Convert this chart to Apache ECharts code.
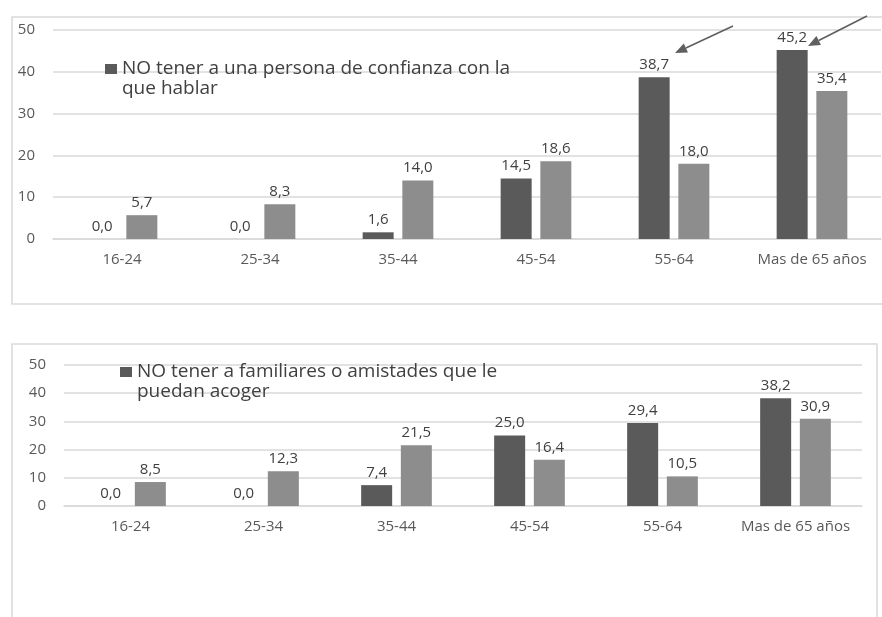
<!DOCTYPE html>
<html>
<head>
<meta charset="utf-8">
<script src="https://cdn.jsdelivr.net/npm/echarts@6/dist/echarts.min.js"></script>
<style>
  html, body { margin: 0; padding: 0; background: #ffffff; }
  #chart { width: 882px; height: 617px; }
</style>
</head>
<body>
<div id="chart"></div>
<script>
// Age groups shared by both panels
const ageGroups = ['16-24', '25-34', '35-44', '45-54', '55-64', 'Mas de 65 años'];

// Upper panel: no trusted person to talk to
const confianzaName = 'NO tener a una persona de confianza con la\nque hablar';
const confianzaValues = [0.0, 0.0, 1.6, 14.5, 38.7, 45.2];
const confianzaRef = [5.7, 8.3, 14.0, 18.6, 18.0, 35.4];

// Lower panel: no relatives or friends who could take them in
const acogidaName = 'NO tener a familiares o amistades que le\npuedan acoger';
const acogidaValues = [0.0, 0.0, 7.4, 25.0, 29.4, 38.2];
const acogidaRef = [8.5, 12.3, 21.5, 16.4, 10.5, 30.9];

// Value axis ticks
const yTicks = [0, 10, 20, 30, 40, 50];

const DARK = '#5a5a5a';
const LIGHT = '#8d8d8d';
const GRID = '#d9d9d9';
const FONT = 'Open Sans';

// Legend marker: a square in the top third of the item box, so it sits
// beside the first line of the two-line legend text.
const LEGEND_ICON = 'path://M0,0H12V10H0Z M0,29.95H0.05V30H0Z';

const fmt = v => v.toFixed(1).replace('.', ',');

function barSeries(name, data, color, axisIndex) {
  return {
    type: 'bar',
    name: name,
    data: data,
    xAxisIndex: axisIndex,
    yAxisIndex: axisIndex,
    barWidth: 31,
    barGap: '28%',
    itemStyle: { color: color },
    label: {
      show: true,
      position: 'top',
      distance: 5,
      color: '#404040',
      fontFamily: FONT,
      fontSize: 15,
      formatter: p => fmt(p.value)
    },
    animation: false
  };
}

function catAxis(gridIndex) {
  return {
    type: 'category',
    gridIndex: gridIndex,
    data: ageGroups,
    axisLine: { show: true, lineStyle: { color: GRID, width: 1.5 } },
    axisTick: { show: false },
    axisLabel: { color: '#595959', fontFamily: FONT, fontSize: 15, margin: 13, interval: 0 }
  };
}

function valAxis(gridIndex) {
  return {
    type: 'value',
    gridIndex: gridIndex,
    min: yTicks[0],
    max: yTicks[yTicks.length - 1],
    interval: yTicks[1] - yTicks[0],
    axisLine: { show: false },
    axisTick: { show: false },
    splitLine: { lineStyle: { color: GRID, width: 1.5 } },
    axisLabel: { color: '#595959', fontFamily: FONT, fontSize: 15, margin: 18 }
  };
}

function legendFor(name, left, top) {
  return {
    data: [name],
    left: left, top: top,
    icon: LEGEND_ICON, itemWidth: 12, itemHeight: 30, itemGap: 5,
    textStyle: { color: '#404040', fontFamily: FONT, fontSize: 19, lineHeight: 20 },
    selectedMode: false
  };
}

// Arrow annotation: a shaft plus a filled triangular head at (x2, y2)
function arrow(x1, y1, x2, y2) {
  const ang = Math.atan2(y2 - y1, x2 - x1);
  const len = 12, half = 5;
  const bx = x2 - len * Math.cos(ang), by = y2 - len * Math.sin(ang);
  const nx = -Math.sin(ang) * half, ny = Math.cos(ang) * half;
  return [
    { type: 'line', z: 50, shape: { x1: x1, y1: y1, x2: bx, y2: by },
      style: { stroke: '#5f5f5f', lineWidth: 1.6 } },
    { type: 'polygon', z: 50,
      shape: { points: [[x2, y2], [bx + nx, by + ny], [bx - nx, by - ny]] },
      style: { fill: '#5f5f5f' } }
  ];
}

const chart = echarts.init(document.getElementById('chart'), null, { renderer: 'canvas' });

chart.setOption({
  backgroundColor: '#ffffff',
  animation: false,
  graphic: [
    { type: 'rect', z: -10, shape: { x: 12, y: 17, width: 900, height: 287 },
      style: { fill: '#ffffff', stroke: GRID, lineWidth: 1.5 } },
    { type: 'rect', z: -10, shape: { x: 12, y: 344, width: 865, height: 300 },
      style: { fill: '#ffffff', stroke: GRID, lineWidth: 1.5 } },
    ...arrow(733, 26, 675, 53),
    ...arrow(867, 16, 808, 46)
  ],
  legend: [
    legendFor(confianzaName, 100, 54),
    legendFor(acogidaName, 115, 357)
  ],
  grid: [
    { left: 53, right: 1, top: 30, height: 209, containLabel: false },
    { left: 64, right: 20, top: 365, height: 141, containLabel: false }
  ],
  xAxis: [catAxis(0), catAxis(1)],
  yAxis: [valAxis(0), valAxis(1)],
  series: [
    barSeries(confianzaName, confianzaValues, DARK, 0),
    barSeries('Referencia 1', confianzaRef, LIGHT, 0),
    barSeries(acogidaName, acogidaValues, DARK, 1),
    barSeries('Referencia 2', acogidaRef, LIGHT, 1)
  ]
});
</script>
</body>
</html>
